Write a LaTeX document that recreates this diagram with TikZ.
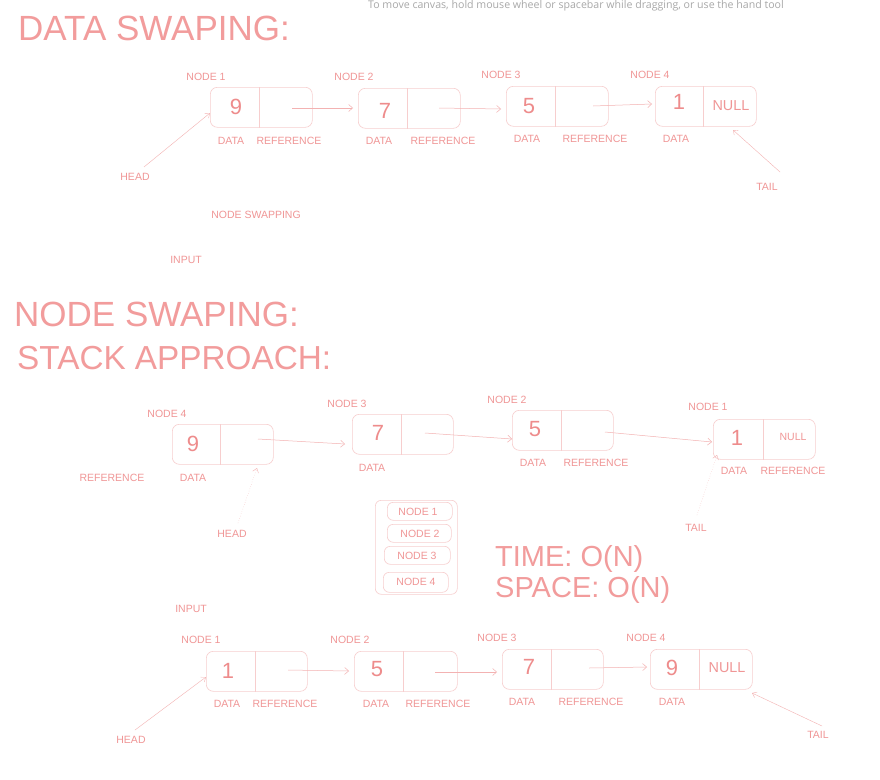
\documentclass[tikz,border=0pt]{standalone}
\usepackage{fontspec}
\setmainfont{Liberation Sans}
\newfontfamily\hintfont{Open Sans}
\usetikzlibrary{arrows.meta,calc}
\definecolor{ink}{HTML}{F09696}
\definecolor{dig}{HTML}{EE8C8C}
\definecolor{ttlc}{HTML}{F29C9C}
\definecolor{boxc}{HTML}{F7CECE}
\definecolor{arrc}{HTML}{F3B2B2}
\definecolor{hintc}{HTML}{A8A8A8}
\tikzset{
  lbl/.style={inner sep=0pt, text=ink, font=\fontsize{10.5}{12}\selectfont},
  digit/.style={inner sep=0pt, text=dig, font=\fontsize{22}{24}\selectfont},
  nul/.style={inner sep=0pt, text=ink, font=\fontsize{14.4}{16}\selectfont},
  ttl/.style={inner sep=0pt, text=ttlc, anchor=base west, font=\fontsize{35}{38}\selectfont},
  cplx/.style={inner sep=0pt, text=ttlc, anchor=base west, font=\fontsize{29}{32}\selectfont},
  cell/.style={draw=boxc, line width=0.6pt, rounded corners=7pt, anchor=north west, inner sep=0pt, minimum height=40pt},
  stk/.style={draw=boxc, line width=0.6pt, rounded corners=6pt, anchor=north west, inner sep=0pt},
  divl/.style={draw=boxc, line width=0.6pt},
  arr/.style={draw=arrc, line width=0.5pt, -{Straight Barb[length=4pt,width=7pt]}},
  ptr/.style={draw=arrc, line width=0.4pt, -{Straight Barb[length=4pt,width=6pt]}},
  hint/.style={inner sep=0pt, text=hintc, anchor=base, font=\hintfont\fontsize{10.6}{12}\selectfont}
}
\newcommand\llcell[5]{%
  \node[cell, minimum width=#4pt] (#1) at (#2,#3) {};
  \draw[divl] ($(#1.north west)+(#5pt,0pt)$) -- ($(#1.south west)+(#5pt,0pt)$);
}
\begin{document}
\begin{tikzpicture}[x=1pt,y=-1pt]
\path[use as bounding box, fill=white] (0,0) rectangle (880,779);
\node[hint] (hint) at (576,9) {To move canvas, hold mouse wheel or spacebar while dragging, or use the hand tool};

% ---------- DATA SWAPING ----------
\node[ttl] (t1) at (18,40) {DATA SWAPING:};
\llcell{a1}{210}{87}{102}{49}
\llcell{a2}{358}{88}{102}{49}
\llcell{a3}{506}{86}{102}{49}
\llcell{a4}{655}{86}{101}{48}
\node[digit] (a1d) at (236,107) {9};
\node[digit] (a2d) at (385,111) {7};
\node[digit] (a3d) at (529,106) {5};
\node[digit] (a4d) at (679,102) {1};
\node[nul] (a4n) at (731,106) {NULL};
\node[lbl] (a1l) at (206,77) {NODE 1};
\node[lbl] (a2l) at (354,77) {NODE 2};
\node[lbl] (a3l) at (501,75) {NODE 3};
\node[lbl] (a4l) at (650,75) {NODE 4};
\node[lbl] (a1da) at (231,141) {DATA};
\node[lbl] (a1re) at (289,141) {REFERENCE};
\node[lbl] (a2da) at (379,141) {DATA};
\node[lbl] (a2re) at (443,141) {REFERENCE};
\node[lbl] (a3da) at (527,139) {DATA};
\node[lbl] (a3re) at (595,139) {REFERENCE};
\node[lbl] (a4da) at (676,139) {DATA};
\node[lbl] (ahead) at (135,177) {HEAD};
\node[lbl] (atail) at (767,187) {TAIL};
\node[lbl] (nsw) at (256,215) {NODE SWAPPING};
\node[lbl] (in1) at (186,260) {INPUT};
\coordinate (a1s) at (292,108); \coordinate (a1e) at (353,108);
\coordinate (a2s) at (439,108); \coordinate (a2e) at (501,109);
\coordinate (a3s) at (593,106); \coordinate (a3e) at (652,104);
\draw[arr] (a1s) -- (a1e);
\draw[arr] (a2s) -- (a2e);
\draw[arr] (a3s) -- (a3e);
\coordinate (ahs) at (144,167); \coordinate (ahe) at (210,113);
\coordinate (ats) at (780,172); \coordinate (ate) at (733,130);
\draw[ptr] (ahs) -- (ahe);
\draw[ptr] (ats) -- (ate);

% ---------- NODE SWAPING ----------
\node[ttl] (t2) at (14,326) {NODE SWAPING:};
\node[ttl, font=\fontsize{33.3}{36}\selectfont] (t3) at (17,369) {STACK APPROACH:};
\llcell{b4}{172}{424}{101}{48}
\llcell{b3}{352}{414}{101}{49}
\llcell{b2}{512}{410}{101}{49}
\llcell{b1}{713}{419}{102}{50}
\node[digit] (b4d) at (193,444) {9};
\node[digit] (b3d) at (378,433) {7};
\node[digit] (b2d) at (535,429) {5};
\node[digit] (b1d) at (737,438) {1};
\node[lbl] (b1n) at (793,437) {NULL};
\node[lbl] (b4l) at (167,414) {NODE 4};
\node[lbl] (b3l) at (347,404) {NODE 3};
\node[lbl] (b2l) at (507,400) {NODE 2};
\node[lbl] (b1l) at (708,407) {NODE 1};
\node[lbl] (b4re) at (112,478) {REFERENCE};
\node[lbl] (b4da) at (193,478) {DATA};
\node[lbl] (b3da) at (372,468) {DATA};
\node[lbl] (b2da) at (533,463) {DATA};
\node[lbl] (b2re) at (596,463) {REFERENCE};
\node[lbl] (b1da) at (734,471) {DATA};
\node[lbl] (b1re) at (793,471) {REFERENCE};
\node[lbl] (bhead) at (232,534) {HEAD};
\node[lbl] (btail) at (696,528) {TAIL};
\coordinate (b4s) at (258,439); \coordinate (b4e) at (345,444);
\coordinate (b3s) at (425,433); \coordinate (b3e) at (512,439);
\coordinate (b2s) at (605,432); \coordinate (b2e) at (712,442);
\draw[arr] (b4s) -- (b4e);
\draw[arr] (b3s) -- (b3e);
\draw[arr] (b2s) -- (b2e);
\coordinate (bhs) at (238,523); \coordinate (bhe) at (257,468);
\coordinate (bts) at (697,515); \coordinate (bte) at (717,455);
\draw[ptr, dotted] (bhs) -- (bhe);
\draw[ptr, dotted] (bts) -- (bte);

% stack
\node[stk, minimum width=82pt, minimum height=94pt] (stack) at (375,500) {};
\node[stk, minimum width=65pt, minimum height=18pt] (s1) at (387,502) {};
\node[stk, minimum width=64pt, minimum height=18pt] (s2) at (387,524) {};
\node[stk, minimum width=66pt, minimum height=18pt] (s3) at (384,546) {};
\node[stk, minimum width=65pt, minimum height=20pt] (s4) at (383,572) {};
\node[lbl] (s1t) at (418,512) {NODE 1};
\node[lbl] (s2t) at (420,534) {NODE 2};
\node[lbl] (s3t) at (417,556) {NODE 3};
\node[lbl] (s4t) at (416,582) {NODE 4};

\node[cplx] (tm) at (495,566) {TIME: O(N)};
\node[cplx] (sp) at (495,597) {SPACE: O(N)};

\node[lbl] (in2) at (191,609) {INPUT};

% ---------- output row ----------
\llcell{c1}{206}{651}{101}{49}
\llcell{c2}{354}{651}{103}{49}
\llcell{c3}{502}{649}{101}{49}
\llcell{c4}{650}{649}{102}{49}
\node[digit] (c1d) at (228,671) {1};
\node[digit] (c2d) at (377,669) {5};
\node[digit] (c3d) at (529,667) {7};
\node[digit] (c4d) at (672,668) {9};
\node[nul] (c4n) at (727,668) {NULL};
\node[lbl] (c1l) at (201,640) {NODE 1};
\node[lbl] (c2l) at (350,640) {NODE 2};
\node[lbl] (c3l) at (497,638) {NODE 3};
\node[lbl] (c4l) at (646,638) {NODE 4};
\node[lbl] (c1da) at (227,704) {DATA};
\node[lbl] (c1re) at (285,704) {REFERENCE};
\node[lbl] (c2da) at (376,704) {DATA};
\node[lbl] (c2re) at (438,704) {REFERENCE};
\node[lbl] (c3da) at (522,702) {DATA};
\node[lbl] (c3re) at (591,702) {REFERENCE};
\node[lbl] (c4da) at (672,702) {DATA};
\node[lbl] (chead) at (131,740) {HEAD};
\node[lbl] (ctail) at (818,735) {TAIL};
\coordinate (c1s) at (288,670); \coordinate (c1e) at (349,671);
\coordinate (c2s) at (435,672); \coordinate (c2e) at (497,672);
\coordinate (c3s) at (589,668); \coordinate (c3e) at (647,667);
\draw[arr] (c1s) -- (c1e);
\draw[arr] (c2s) -- (c2e);
\draw[arr] (c3s) -- (c3e);
\coordinate (chs) at (135,730); \coordinate (che) at (206,677);
\coordinate (cts) at (822,726); \coordinate (cte) at (752,693);
\draw[ptr] (chs) -- (che);
\draw[ptr] (cts) -- (cte);
\end{tikzpicture}
\end{document}
